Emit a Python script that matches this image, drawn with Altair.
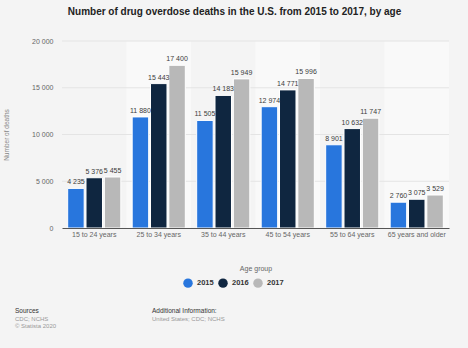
import altair as alt
import pandas as pd

categories = ["15 to 24 years", "25 to 34 years", "35 to 44 years",
              "45 to 54 years", "55 to 64 years", "65 years and older"]
years = ["2015", "2016", "2017"]
v2015 = [4235, 11880, 11505, 12974, 8901, 2760]
v2016 = [5376, 15443, 14183, 14771, 10632, 3075]
v2017 = [5455, 17400, 15949, 15996, 11747, 3529]
colors = ["#2876dd", "#0f2640", "#b8b8b8"]
grid_values = [5000, 10000, 15000, 20000]

rows = []
for yr, vals in zip(years, [v2015, v2016, v2017]):
    for c, v in zip(categories, vals):
        rows.append({"category": c, "year": yr, "value": v,
                     "label": f"{v:,}".replace(",", " ")})
df = pd.DataFrame(rows)

bands = pd.DataFrame({"category": categories,
                      "shade": [i % 2 == 1 for i in range(len(categories))]})
grid = pd.DataFrame({"value": grid_values})

W, H = 387, 187

xscale = alt.Scale(domain=categories, paddingInner=0, paddingOuter=0)
yscale = alt.Scale(domain=[0, 20000], nice=False)

band_layer = alt.Chart(bands).transform_filter("datum.shade").mark_rect(
    fill="#f9f9f9").encode(
    x=alt.X("category:N", scale=xscale, sort=categories),
    y=alt.datum(20000, scale=yscale),
    y2=alt.datum(0),
)

grid_layer = alt.Chart(grid).mark_rule(color="#e4e4e4", strokeWidth=1).encode(
    y=alt.Y("value:Q", scale=yscale),
)

bars = alt.Chart(df).mark_bar(stroke="white", strokeWidth=1).encode(
    x=alt.X("category:N", scale=xscale, sort=categories,
            axis=alt.Axis(title="Age group", labelAngle=0, ticks=False,
                          bandPosition=0.5, labelAlign="center",
                          labelFontSize=7, labelColor="#666666",
                          labelPadding=6, titleFontSize=7,
                          titleColor="#666666", titleFontWeight="normal",
                          titlePadding=27, domainColor="#555555",
                          domainWidth=1.2)),
    xOffset=alt.XOffset("year:N", scale=alt.Scale(paddingInner=0.1, paddingOuter=0.31)),
    y=alt.Y("value:Q", scale=yscale,
            axis=alt.Axis(title="Number of deaths", values=[0] + grid_values,
                          grid=False, domain=False, ticks=False,
                          labelFontSize=7, labelColor="#666666",
                          labelPadding=9,
                          labelExpr="replace(format(datum.value, ','), ',', ' ')",
                          titleFontSize=6.5, titleColor="#888888",
                          titleFontWeight="normal", titlePadding=22)),
    color=alt.Color("year:N", scale=alt.Scale(domain=years, range=colors),
                    legend=alt.Legend(title=None, orient="none",
                                      legendX=121, legendY=237,
                                      direction="horizontal",
                                      symbolType="circle", symbolSize=90,
                                      symbolStrokeWidth=0,
                                      labelFontSize=7.5, labelFontWeight="bold",
                                      labelColor="#333333", columnPadding=4,
                                      labelOffset=4)),
)

labels = alt.Chart(df).mark_text(dy=-6, fontSize=7, color="#3c3c3c").encode(
    x=alt.X("category:N", scale=xscale, sort=categories),
    xOffset=alt.XOffset("year:N"),
    y=alt.Y("value:Q", scale=yscale),
    text="label:N",
)

footer = pd.DataFrame({
    "text": ["Sources", "CDC; NCHS", "© Statista 2020",
             "Additional Information:", "United States; CDC; NCHS"],
    "px": [-47, -47, -47, 90, 90],
    "py": [270, 278, 285, 270, 278],
    "bold": [True, False, False, True, False],
})

foot_bold = alt.Chart(footer).transform_filter("datum.bold").mark_text(
    align="left", baseline="middle", fontSize=6.5, color="#333333",
    fontWeight="normal").encode(
    x=alt.X("px:Q", scale=None), y=alt.Y("py:Q", scale=None), text="text:N")
foot_norm = alt.Chart(footer).transform_filter("!datum.bold").mark_text(
    align="left", baseline="middle", fontSize=6, color="#999999").encode(
    x=alt.X("px:Q", scale=None), y=alt.Y("py:Q", scale=None), text="text:N")

chart = alt.layer(band_layer, grid_layer, bars, labels, foot_bold, foot_norm).properties(
    width=W, height=H,
    title=alt.TitleParams("Number of drug overdose deaths in the U.S. from 2015 to 2017, by age",
                          fontSize=10, fontWeight="bold", color="#222222",
                          anchor="middle", dx=-21, offset=20),
    autosize=alt.AutoSizeParams(type="none"),
    padding={"left": 62, "top": 41, "right": 19, "bottom": 120},
).configure(background="#f4f4f4", font="Liberation Sans").configure_view(stroke=None)

chart.save("out.html", embed_options={"renderer": "svg", "actions": False})
